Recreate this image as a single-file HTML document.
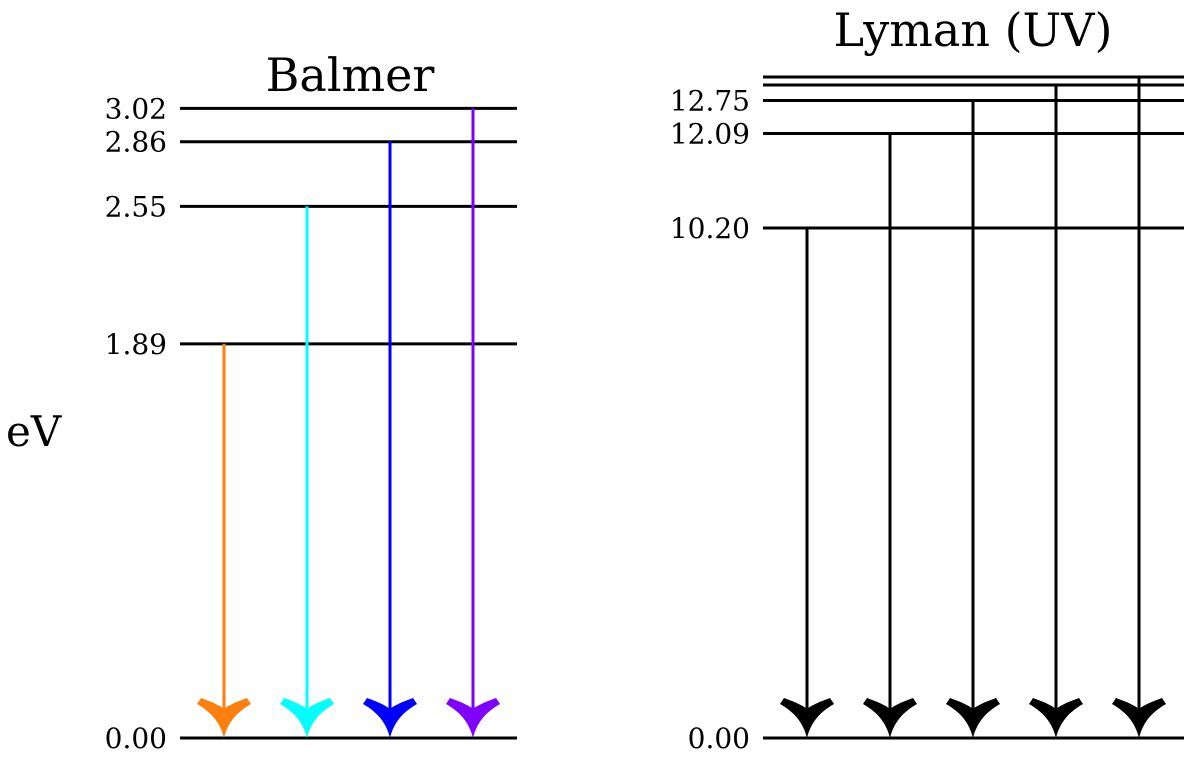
<!DOCTYPE html>
<html><head><meta charset="utf-8"><style>
html,body{margin:0;padding:0;background:#fff;}
svg text{font-family:"DejaVu Serif","Liberation Serif",serif;fill:#000;}
</style></head><body>
<svg id="chart" width="1184" height="756" viewBox="0 0 1184 756" xmlns="http://www.w3.org/2000/svg">
<text x="350" y="91" font-size="46" text-anchor="middle">Balmer</text>
<text x="973" y="46" font-size="46" text-anchor="middle">Lyman (UV)</text>
<text x="6" y="446" font-size="42">eV</text>
<g id="g"></g>
</svg>
<script>
const balmerLevels = [0, 1.89, 2.55, 2.86, 3.02];
const balmerLabels = ["0.00", "1.89", "2.55", "2.86", "3.02"];
const balmerTransitions = [1.89, 2.55, 2.86, 3.02];
const balmerColors = ["#ff7f0e", "#00ffff", "#0000ff", "#8000ff"];
const lymanLevels = [0, 10.20, 12.09, 12.75, 13.06, 13.22];
const lymanLabels = ["0.00", "10.20", "12.09", "12.75", "", ""];
const lymanTransitions = [10.20, 12.09, 12.75, 13.06, 13.22];

const NS = "http://www.w3.org/2000/svg";
const g = document.getElementById('g');
const yB = v => 738 - v * 208.5;
const yL = v => 738 - v * 50;
function mk(tag, attrs){const e=document.createElementNS(NS,tag);for(const k in attrs)e.setAttribute(k,attrs[k]);g.appendChild(e);return e;}
function head(x,color){
  return mk('path',{d:`M${x},738 C${x-4},722 ${x-13},712 ${x-27},704 L${x-23},698 C${x-12},702 ${x-5},705 ${x},709 C${x+5},705 ${x+12},702 ${x+23},698 L${x+27},704 C${x+13},712 ${x+4},722 ${x},738 Z`,fill:color});
}
balmerLevels.forEach((v,i)=>{
  const l=mk('line',{x1:180,x2:517,y1:yB(v),y2:yB(v),stroke:'#000','stroke-width':3});
  
  
  const t=mk('text',{x:167,y:yB(v)+10,'font-size':28,'text-anchor':'end'});
  t.textContent=balmerLabels[i];
  
  
});
balmerTransitions.forEach((v,i)=>{
  const x=224+83*i;
  const l=mk('line',{x1:x,x2:x,y1:yB(v),y2:725,stroke:balmerColors[i],'stroke-width':3});
  
  
  const h=head(x,balmerColors[i]);
  
  
});
lymanLevels.forEach((v,i)=>{
  const l=mk('line',{x1:763,x2:1184,y1:yL(v),y2:yL(v),stroke:'#000','stroke-width':3});
  
  
  if(lymanLabels[i]){
    const t=mk('text',{x:750,y:yL(v)+10,'font-size':28,'text-anchor':'end'});
    t.textContent=lymanLabels[i];
    
    
  }
});
lymanTransitions.forEach((v,i)=>{
  const x=807+83*i;
  const l=mk('line',{x1:x,x2:x,y1:yL(v),y2:725,stroke:'#000','stroke-width':3});
  
  
  const h=head(x,'#000');
  
  
});
</script>
</body></html>
